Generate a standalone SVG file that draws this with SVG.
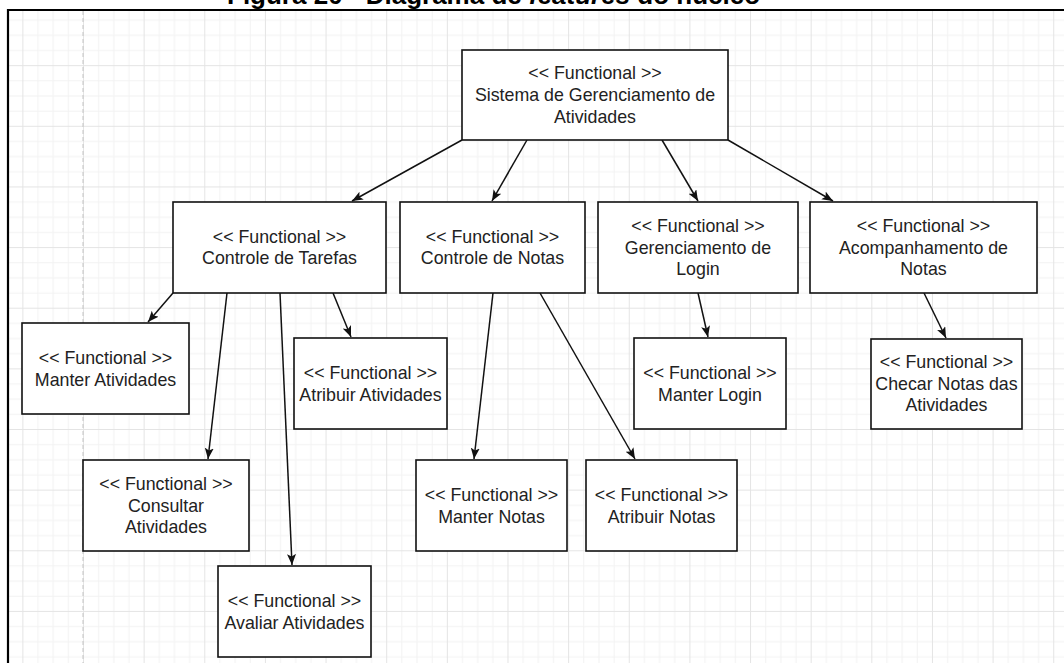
<svg xmlns="http://www.w3.org/2000/svg" width="1064" height="663" viewBox="0 0 1064 663">
<style>
.box{fill:#ffffff;stroke:#111111;stroke-width:1.6}
.lbl{font-family:"Liberation Sans",Arial,sans-serif;font-size:17.8px;fill:#222222;text-anchor:middle}
.edge{fill:none;stroke:#111111;stroke-width:1.5;marker-end:url(#arr)}
.title{font-family:"Liberation Sans",Arial,sans-serif;font-size:26px;font-weight:bold;fill:#000000}
</style>
<defs>
<pattern id="grid" patternUnits="userSpaceOnUse" x="83" y="65.16" width="60.64" height="60.64">
<rect x="15.16" y="0" width="1" height="60.64" fill="#f2f2f2"/>
<rect x="30.32" y="0" width="1" height="60.64" fill="#f2f2f2"/>
<rect x="45.48" y="0" width="1" height="60.64" fill="#f2f2f2"/>
<rect x="0" y="15.16" width="60.64" height="1" fill="#f2f2f2"/>
<rect x="0" y="30.32" width="60.64" height="1" fill="#f2f2f2"/>
<rect x="0" y="45.48" width="60.64" height="1" fill="#f2f2f2"/>
<rect x="0" y="0" width="1" height="60.64" fill="#e4e4e4"/>
<rect x="0" y="0" width="60.64" height="1" fill="#e4e4e4"/>
</pattern>
<marker id="arr" markerUnits="userSpaceOnUse" markerWidth="12" markerHeight="10" refX="11" refY="4.5" orient="auto">
<path d="M0,0 L11,4.5 L0,9 L2.5,4.5 Z" fill="#111111"/>
</marker>
</defs>
<rect x="0" y="0" width="1064" height="663" fill="#ffffff"/>
<text class="title" x="227" y="4">Figura 20 - Diagrama de <tspan font-style="italic">features</tspan> do núcleo</text>
<rect x="9" y="11" width="1060" height="660" fill="url(#grid)"/>
<line x1="83" y1="11" x2="83" y2="663" stroke="#c4c4c4" stroke-width="1" stroke-dasharray="4 3"/>
<path d="M8,663 V10 H1064" fill="none" stroke="#000000" stroke-width="2.2"/>
<g id="connectors">
<line class="edge" x1="462" y1="140" x2="352" y2="201"/>
<line class="edge" x1="527" y1="140" x2="492" y2="201"/>
<line class="edge" x1="662" y1="140" x2="698" y2="201"/>
<line class="edge" x1="728" y1="140" x2="833" y2="201"/>
<line class="edge" x1="173" y1="293" x2="148" y2="322"/>
<line class="edge" x1="227" y1="293" x2="208" y2="459"/>
<line class="edge" x1="280" y1="293" x2="292" y2="565"/>
<line class="edge" x1="333" y1="293" x2="351" y2="337"/>
<line class="edge" x1="493" y1="293" x2="474" y2="459"/>
<line class="edge" x1="540" y1="293" x2="635" y2="459"/>
<line class="edge" x1="698" y1="293" x2="708" y2="337"/>
<line class="edge" x1="924" y1="293" x2="946" y2="338"/>
</g>
<g id="node-sistema">
<rect class="box" x="462" y="50" width="266" height="90"/>
<text class="lbl" x="595" y="79">&lt;&lt; Functional &gt;&gt;</text>
<text class="lbl" x="595" y="101">Sistema de Gerenciamento de</text>
<text class="lbl" x="595" y="123">Atividades</text>
</g>
<g id="node-controle-tarefas">
<rect class="box" x="173" y="202" width="213" height="91"/>
<text class="lbl" x="279.5" y="243">&lt;&lt; Functional &gt;&gt;</text>
<text class="lbl" x="279.5" y="264">Controle de Tarefas</text>
</g>
<g id="node-controle-notas">
<rect class="box" x="400" y="202" width="185" height="91"/>
<text class="lbl" x="492.5" y="243">&lt;&lt; Functional &gt;&gt;</text>
<text class="lbl" x="492.5" y="264">Controle de Notas</text>
</g>
<g id="node-gerenciamento-login">
<rect class="box" x="598" y="202" width="200" height="91"/>
<text class="lbl" x="698" y="232">&lt;&lt; Functional &gt;&gt;</text>
<text class="lbl" x="698" y="253.5">Gerenciamento de</text>
<text class="lbl" x="698" y="275">Login</text>
</g>
<g id="node-acompanhamento-notas">
<rect class="box" x="810" y="202" width="227" height="91"/>
<text class="lbl" x="923.5" y="232">&lt;&lt; Functional &gt;&gt;</text>
<text class="lbl" x="923.5" y="253.5">Acompanhamento de</text>
<text class="lbl" x="923.5" y="275">Notas</text>
</g>
<g id="node-manter-atividades">
<rect class="box" x="22" y="323" width="167" height="91"/>
<text class="lbl" x="105.5" y="363.5">&lt;&lt; Functional &gt;&gt;</text>
<text class="lbl" x="105.5" y="386">Manter Atividades</text>
</g>
<g id="node-atribuir-atividades">
<rect class="box" x="294" y="338" width="153" height="91"/>
<text class="lbl" x="370.5" y="378.5">&lt;&lt; Functional &gt;&gt;</text>
<text class="lbl" x="370.5" y="401">Atribuir Atividades</text>
</g>
<g id="node-consultar-atividades">
<rect class="box" x="83" y="460" width="166" height="91"/>
<text class="lbl" x="166" y="490">&lt;&lt; Functional &gt;&gt;</text>
<text class="lbl" x="166" y="511.5">Consultar</text>
<text class="lbl" x="166" y="533">Atividades</text>
</g>
<g id="node-avaliar-atividades">
<rect class="box" x="218" y="566" width="153" height="91"/>
<text class="lbl" x="294.5" y="606.5">&lt;&lt; Functional &gt;&gt;</text>
<text class="lbl" x="294.5" y="629">Avaliar Atividades</text>
</g>
<g id="node-manter-notas">
<rect class="box" x="416" y="460" width="151" height="91"/>
<text class="lbl" x="491.5" y="500.5">&lt;&lt; Functional &gt;&gt;</text>
<text class="lbl" x="491.5" y="523">Manter Notas</text>
</g>
<g id="node-atribuir-notas">
<rect class="box" x="586" y="460" width="151" height="91"/>
<text class="lbl" x="661.5" y="500.5">&lt;&lt; Functional &gt;&gt;</text>
<text class="lbl" x="661.5" y="523">Atribuir Notas</text>
</g>
<g id="node-manter-login">
<rect class="box" x="634" y="338" width="152" height="91"/>
<text class="lbl" x="710" y="378.5">&lt;&lt; Functional &gt;&gt;</text>
<text class="lbl" x="710" y="401">Manter Login</text>
</g>
<g id="node-checar-notas">
<rect class="box" x="871" y="339" width="151" height="90"/>
<text class="lbl" x="946.5" y="368">&lt;&lt; Functional &gt;&gt;</text>
<text class="lbl" x="946.5" y="389.5">Checar Notas das</text>
<text class="lbl" x="946.5" y="411">Atividades</text>
</g>
</svg>
